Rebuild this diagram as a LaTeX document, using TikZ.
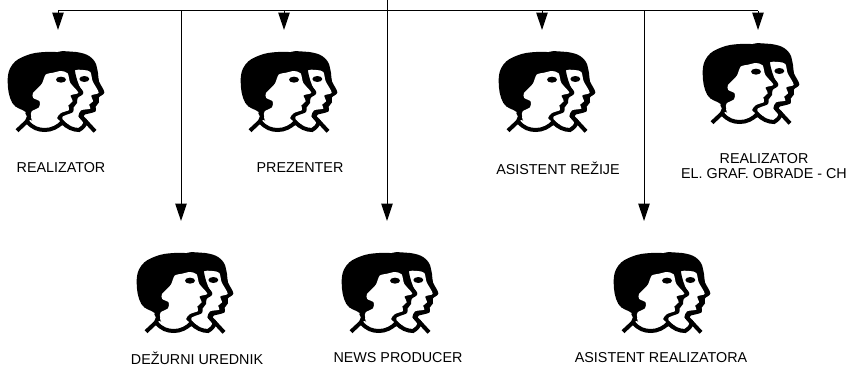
\documentclass[tikz,border=0pt]{standalone}
\usepackage{fontspec}
\setmainfont{Liberation Sans}
\usetikzlibrary{arrows.meta}

\tikzset{
    wire/.style={line width=0.75pt, black},
    arrow/.style={wire, -{Triangle[length=13pt, width=8.5pt]}},
    label/.style={align=center, inner sep=0pt, font=\fontsize{10.75}{11.6}\selectfont},
    shoulder/.style={black, line width=3pt},
    heads/.pic={
        \begin{scope}[scale=1/3]
            % head at the back
            \fill[black] plot[smooth cycle, tension=0.55] coordinates {(150,20) (200,11) (245,20) (270,42) (279,75) (282,100) (298,133) (282,148) (282,163) (272,176) (272,190) (250,197) (238,200) (232,207) (245,222) (180,225) (150,120)};
            \fill[white] plot[smooth cycle, tension=0.45] coordinates {(205,72) (235,66) (256,72) (263,100) (281,134) (259,142) (264,160) (252,170) (256,182) (228,187) (220,205) (234,224) (222,240) (195,232) (172,210) (190,150)};
            % head at the front
            \fill[black] plot[smooth cycle, tension=0.7] coordinates {(8,100) (22,50) (65,22) (120,12) (170,16) (203,42) (212,80) (222,112) (235,135) (218,150) (216,165) (206,178) (204,192) (180,202) (170,210) (178,232) (120,225) (75,215) (62,192) (22,165)};
            \fill[white] plot[smooth cycle, tension=0.45] coordinates {(168,69) (188,76) (196,105) (220,134) (197,142) (203,160) (190,172) (192,186) (168,195) (156,210) (168,226) (120,240) (84,222) (78,205) (80,190) (102,178) (104,160) (85,150) (84,135) (110,108) (122,80) (145,74)};
            % eyes
            \fill[black] (168,95) ellipse (15 and 9);
            \fill[black] (238,93) ellipse (15 and 9);
            % shoulders
            \draw[shoulder] (36,248) -- (66,220) .. controls (82,240) and (100,246) .. (120,246) .. controls (140,246) and (160,236) .. (172,222) .. controls (185,238) and (205,246) .. (222,246) .. controls (232,240) and (240,232) .. (244,222) -- (270,250);
            \draw[shoulder] (66,220) -- (72,205) -- (66,192);
            \draw[shoulder] (244,222) -- (229,206) -- (236,192);
        \end{scope}
    }
}

\begin{document}
\begin{tikzpicture}[x=0.75pt, y=-0.75pt]
        \useasboundingbox (0,0) rectangle (852,368);

        \coordinate (top) at (387,0);
        \coordinate (busleft) at (58,10.5);
        \coordinate (busright) at (758,10.5);
        \coordinate (dezurnitap) at (181,10.5);
        \coordinate (prezentertap) at (284,10.5);
        \coordinate (newstap) at (387,10.5);
        \coordinate (asistenttap) at (542,10.5);
        \coordinate (pomocniktap) at (644,10.5);

        \coordinate (realizatorin) at (58,30);
        \coordinate (prezenterin) at (284,30);
        \coordinate (asistentin) at (542,30);
        \coordinate (grafikain) at (758,30);
        \coordinate (dezurniin) at (181,221);
        \coordinate (newsin) at (387,221);
        \coordinate (pomocnikin) at (644,221);

        \draw[wire] (busleft) -- (busright);
        \draw[wire] (top) -- (newstap);

        \draw[arrow] (busleft) -- (realizatorin);
        \draw[arrow] (prezentertap) -- (prezenterin);
        \draw[arrow] (asistenttap) -- (asistentin);
        \draw[arrow] (busright) -- (grafikain);
        \draw[arrow] (dezurnitap) -- (dezurniin);
        \draw[arrow] (newstap) -- (newsin);
        \draw[arrow] (pomocniktap) -- (pomocnikin);

        \pic at (5,48) {heads};
        \pic at (238,48) {heads};
        \pic at (496,48) {heads};
        \pic at (700,40) {heads};
        \pic at (134,249) {heads};
        \pic at (339,249) {heads};
        \pic at (611,249) {heads};

        \node[label] (realizator) at (61,168) {REALIZATOR};
        \node[label] (prezenter) at (300,168) {PREZENTER};
        \node[label] (asistent) at (558,168) {ASISTENT REŽIJE};
        \node[label] (grafika) at (764,166) {REALIZATOR\\EL. GRAF. OBRADE - CH};
        \node[label] (dezurni) at (197,358) {DEŽURNI UREDNIK};
        \node[label] (news) at (398,358) {NEWS PRODUCER};
        \node[label] (pomocnik) at (661,358) {ASISTENT REALIZATORA};
    \end{tikzpicture}
\end{document}
